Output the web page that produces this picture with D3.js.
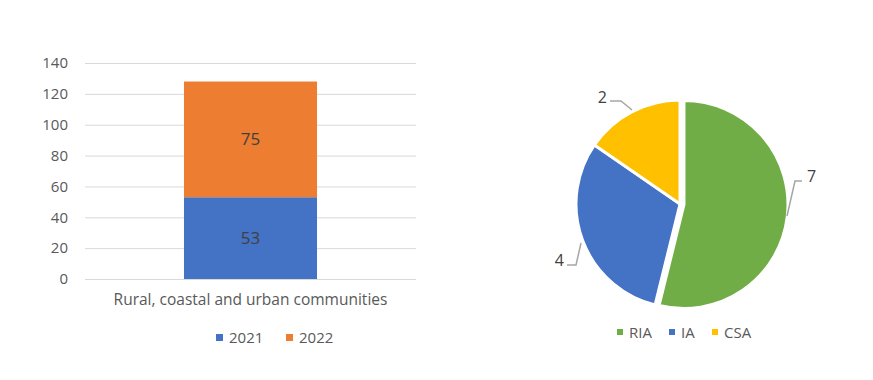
<!DOCTYPE html>
<html>
<head>
<meta charset="utf-8">
<script src="https://cdn.jsdelivr.net/npm/d3@7"></script>
<style>
  body { margin: 0; background: #fff; }
  svg text { font-family: "Open Sans", "Liberation Sans", sans-serif; fill: #595959; }
</style>
</head>
<body>
<script>
// bar chart data
var categories = ["Rural, coastal and urban communities"];
var years = ["2021", "2022"];
var values2021 = [53];
var values2022 = [75];
var yTicks = [0, 20, 40, 60, 80, 100, 120, 140];

// pie data
var pieLabels = ["RIA", "IA", "CSA"];
var pieValues = [7, 4, 2];

var svg = d3.select("body").append("svg")
    .attr("width", 873)
    .attr("height", 380);

// ---- stacked bar ----
var x = d3.scaleBand()
    .domain(categories)
    .range([85, 416])
    .paddingInner(0)
    .paddingOuter(0.744);

var y = d3.scaleLinear()
    .domain([0, 140])
    .range([279, 63]);

var barColor = d3.scaleOrdinal()
    .domain(years)
    .range(["#4472c4", "#ed7d31"]);

var rows = categories.map(function(c, i) {
    return { cat: c, "2021": values2021[i], "2022": values2022[i] };
});
var stacked = d3.stack().keys(years)(rows);

svg.append("g")
  .selectAll("line")
  .data(yTicks)
  .enter().append("line")
    .attr("x1", 85)
    .attr("x2", 416)
    .attr("y1", function(d) { return y(d) + 0.5; })
    .attr("y2", function(d) { return y(d) + 0.5; })
    .attr("stroke", "#d9d9d9")
    .attr("stroke-width", 1);

svg.append("g")
  .selectAll("text")
  .data(yTicks)
  .enter().append("text")
    .attr("x", 68)
    .attr("y", function(d) { return y(d); })
    .attr("dy", "0.35em")
    .attr("text-anchor", "end")
    .attr("font-size", "15px")
    .text(function(d) { return d; });

var layers = svg.selectAll(".layer")
    .data(stacked)
  .enter().append("g")
    .attr("class", "layer")
    .attr("fill", function(d) { return barColor(d.key); });

layers.selectAll("rect")
    .data(function(d) { return d; })
  .enter().append("rect")
    .attr("x", function(d) { return x(d.data.cat); })
    .attr("y", function(d) { return y(d[1]); })
    .attr("width", x.bandwidth())
    .attr("height", function(d) { return y(d[0]) - y(d[1]); });

layers.selectAll("text")
    .data(function(d) { return d; })
  .enter().append("text")
    .attr("x", function(d) { return x(d.data.cat) + x.bandwidth() / 2; })
    .attr("y", function(d) { return y((d[0] + d[1]) / 2); })
    .attr("dy", "0.35em")
    .attr("text-anchor", "middle")
    .attr("font-size", "17px")
    .style("fill", "#404040")
    .text(function(d) { return d[1] - d[0]; });

svg.append("g")
  .selectAll("text")
  .data(categories)
  .enter().append("text")
    .attr("x", function(d) { return x(d) + x.bandwidth() / 2; })
    .attr("y", 300)
    .attr("dy", "0.35em")
    .attr("text-anchor", "middle")
    .attr("font-size", "15.5px")
    .text(function(d) { return d; });

var barLegend = svg.selectAll(".blegend")
    .data(years)
  .enter().append("g")
    .attr("class", "blegend")
    .attr("transform", function(d, i) { return "translate(" + (216 + i * 70) + ",338)"; });

barLegend.append("rect")
    .attr("y", -4)
    .attr("width", 7)
    .attr("height", 7)
    .attr("fill", barColor);

barLegend.append("text")
    .attr("x", 13)
    .attr("dy", "0.35em")
    .attr("font-size", "15px")
    .text(function(d) { return d; });

// ---- pie ----
var pieColor = d3.scaleOrdinal()
    .domain(pieLabels)
    .range(["#70ad47", "#4472c4", "#ffc000"]);

var cx = 680, cy = 204, r = 104;
var pie = d3.pie().sort(null).value(function(d) { return d.v; });
var arcs = pie(pieLabels.map(function(l, i) { return { label: l, v: pieValues[i] }; }));
var arc = d3.arc().innerRadius(0).outerRadius(r);

var pg = svg.append("g").attr("transform", "translate(" + cx + "," + cy + ")");

pg.selectAll("path")
    .data(arcs)
  .enter().append("path")
    .attr("d", arc)
    .attr("transform", function(d, i) {
        // first slice pulled out a little
        if (i !== 0) return null;
        var c = arc.centroid(d), len = Math.sqrt(c[0] * c[0] + c[1] * c[1]);
        return "translate(" + (c[0] / len * 4) + "," + (c[1] / len * 4) + ")";
    })
    .attr("fill", function(d) { return pieColor(d.data.label); })
    .attr("stroke", "#fff")
    .attr("stroke-width", 3);

// leader lines: start on slice edge, elbow, label
var leaders = [
    { pts: [[107, 12], [115, -23], [122, -23]], lx: 127, ly: -28, anchor: "start" },
    { pts: [[-99, 39], [-104, 61], [-113, 61]], lx: -116, ly: 56, anchor: "end" },
    { pts: [[-48, -94], [-59, -103], [-70, -103]], lx: -73, ly: -107, anchor: "end" }
];

pg.selectAll(".leader")
    .data(arcs)
  .enter().append("polyline")
    .attr("class", "leader")
    .attr("points", function(d, i) { return leaders[i].pts.join(" "); })
    .attr("fill", "none")
    .attr("stroke", "#a6a6a6")
    .attr("stroke-width", 1.5);

pg.selectAll(".plabel")
    .data(arcs)
  .enter().append("text")
    .attr("class", "plabel")
    .attr("x", function(d, i) { return leaders[i].lx; })
    .attr("y", function(d, i) { return leaders[i].ly; })
    .attr("dy", "0.35em")
    .attr("text-anchor", function(d, i) { return leaders[i].anchor; })
    .attr("font-size", "16px")
    .style("fill", "#404040")
    .text(function(d) { return d.data.v; });

var pieLegendX = [617, 669, 712];
var pieLegend = svg.selectAll(".plegend")
    .data(pieLabels)
  .enter().append("g")
    .attr("class", "plegend")
    .attr("transform", function(d, i) { return "translate(" + pieLegendX[i] + ",333)"; });

pieLegend.append("rect")
    .attr("y", -4)
    .attr("width", 6)
    .attr("height", 6)
    .attr("fill", pieColor);

pieLegend.append("text")
    .attr("x", 12)
    .attr("dy", "0.35em")
    .attr("font-size", "15px")
    .text(function(d) { return d; });
</script>
</body>
</html>
